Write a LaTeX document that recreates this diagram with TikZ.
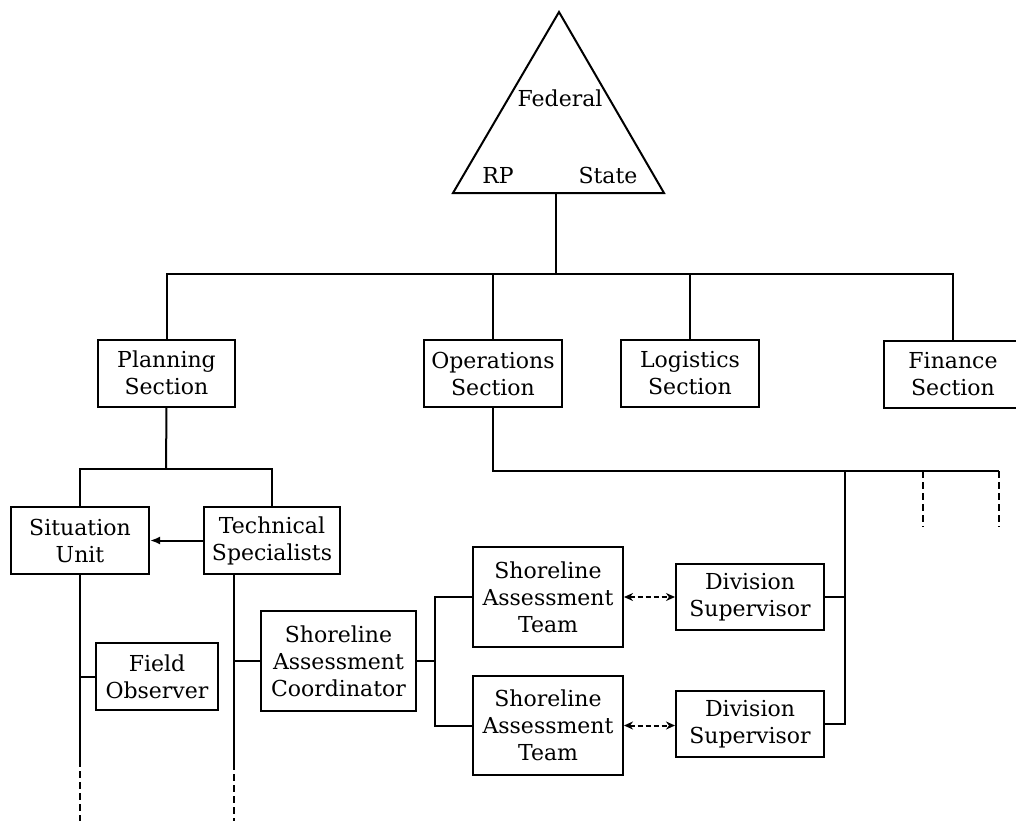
\documentclass[tikz,border=0pt]{standalone}
\usepackage{fontspec}
\setmainfont{DejaVu Serif}
\usetikzlibrary{arrows.meta}
\tikzset{
  unitbox/.style={draw, line width=2pt, align=center, inner sep=0pt, minimum height=67pt},
  link/.style={line width=2pt},
  gap/.style={line width=2pt, dash pattern=on 7pt off 4pt},
  liaison/.style={line width=2pt, dash pattern=on 5pt off 3pt, {Stealth[length=9pt,width=8pt]}-{Stealth[length=9pt,width=8pt]}},
}
\begin{document}
\begin{tikzpicture}[x=1pt,y=-1pt,font=\fontsize{22}{27}\selectfont]
\clip (0,0) rectangle (1016,821);
\begin{scope}[local bounding box=command]
  \coordinate (apex) at (559,12);\coordinate (bl) at (453,193);\coordinate (br) at (664,193);
  \draw[link] (apex) -- (br) -- (bl) -- cycle;
  \node (fed) at (560,98) {Federal};\node (rp) at (498,175) {RP};\node (state) at (608,175) {State};
  \coordinate (hub) at (556,193);\coordinate (bus) at (556,274);
\end{scope}
\begin{scope}[local bounding box=sections]
  \node[unitbox, minimum width=137pt] (plan) at (166.5,373) {Planning\\Section};
  \node[unitbox, minimum width=138pt] (ops) at (493,373.5) {Operations\\Section};
  \node[unitbox, minimum width=138pt] (log) at (690,373.5) {Logistics\\Section};
  \node[unitbox, minimum width=138pt] (fin) at (953,374) {Finance\\Section};
\end{scope}
\begin{scope}[local bounding box=planning]
  \node[unitbox, minimum width=138pt] (sit) at (80,540.5) {Situation\\Unit};
  \node[unitbox, minimum width=136pt] (tech) at (272,540.5) {Technical\\Specialists};
  \node[unitbox, minimum width=122pt] (fobs) at (157,676.5) {Field\\Observer};
  \node[unitbox, minimum width=155pt, minimum height=100pt] (coord) at (338.5,661) {Shoreline\\Assessment\\Coordinator};
  \coordinate (pbus) at (166,469);\coordinate (sitend) at (80,760);\coordinate (sitcut) at (80,821);
  \coordinate (techfoot) at (234,574);\coordinate (techend) at (234,763);\coordinate (techcut) at (234,821);
\end{scope}
\begin{scope}[local bounding box=field]
  \node[unitbox, minimum width=150pt, minimum height=100pt] (sat1) at (548,597) {Shoreline\\Assessment\\Team};
  \node[unitbox, minimum width=150pt, minimum height=99pt] (sat2) at (548,725.5) {Shoreline\\Assessment\\Team};
  \node[unitbox, minimum width=148pt, minimum height=66pt] (div1) at (750,597) {Division\\Supervisor};
  \node[unitbox, minimum width=148pt, minimum height=66pt] (div2) at (750,724) {Division\\Supervisor};
  \coordinate (fork) at (435,661);\coordinate (ojoin) at (845,471);\coordinate (oend) at (999,471);
\end{scope}
\draw[link] (hub) -- (bus);\draw[link] (plan.north) |- (bus) -| (fin.north);
\draw[link] (ops.north) -- (ops.north |- bus);\draw[link] (log.north) -- (log.north |- bus);
\draw[link] (plan.south) -- (pbus);\draw[link] (sit.north) |- (pbus) -| (tech.north);
\draw[link, -{Latex[length=10pt,width=8pt]}] (tech.west) -- (sit.east);
\draw[link] (sit.south) -- (sitend);\draw[gap] (sitend) -- (sitcut);
\draw[link] (fobs.west -| sit.south) -- (fobs.west);
\draw[link] (techfoot) -- (techend);\draw[gap] (techend) -- (techcut);
\draw[link] (coord.west -| techfoot) -- (coord.west);
\draw[link] (coord.east) -- (fork);\draw[link] (sat1.west) -| (fork) |- (sat2.west);
\draw[liaison] (sat1.east) -- (div1.west);\draw[liaison] (sat2.east) -- (sat2.east -| div2.west);
\draw[link] (ops.south) |- (oend);
\draw[link] (div1.east) -- (div1.east -| ojoin);\draw[link] (ojoin) |- (div2.east);
\foreach \x/\n in {923/a,999/b} {\coordinate (open\n) at (\x,471);\coordinate (stub\n) at (\x,527);\draw[gap] (open\n) -- (stub\n);}
\end{tikzpicture}
\end{document}
